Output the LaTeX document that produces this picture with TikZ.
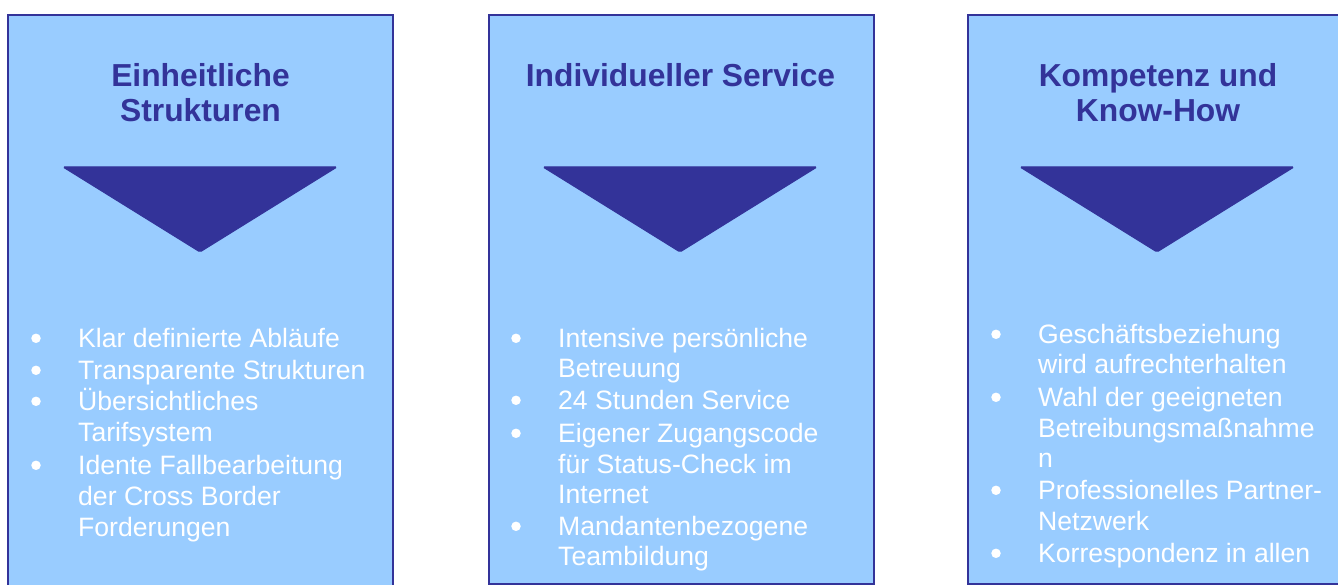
\documentclass[tikz,border=0pt]{standalone}
\usepackage{fontspec}
\setmainfont{Liberation Sans}
\definecolor{panelblue}{HTML}{99CCFF}
\definecolor{darkblue}{HTML}{333399}

\tikzset{
  panel/.style={draw=darkblue, fill=panelblue, line width=2pt},
  wedge/.style={fill=darkblue, draw=darkblue, line width=1pt, rounded corners=1.5pt},
  headtext/.style={font=\fontsize{31.8}{35}\selectfont\bfseries, text=darkblue, anchor=base, inner sep=0pt},
  itemline/.style={font=\fontsize{26.6}{30}\selectfont, text=white, anchor=base west, inner sep=0pt},
  bullet/.style={circle, fill=white, inner sep=0pt, minimum size=9.5pt},
}

\begin{document}
\begin{tikzpicture}[x=1pt, y=-1pt]
  \useasboundingbox (0,0) rectangle (1338,585);
  \clip (0,0) rectangle (1338,585);

  % panels
  \draw[panel] (8,15)   rectangle (393,600);
  \draw[panel] (489,15) rectangle (874,584);
  \draw[panel] (968,15) rectangle (1360,584);

  % arrows down
  \fill[wedge] (63,167)   -- (337,167)  -- (200,252)  -- cycle;
  \fill[wedge] (543,167)  -- (817,167)  -- (680,252)  -- cycle;
  \fill[wedge] (1020,167) -- (1294,167) -- (1157,252) -- cycle;

  % headings
  \node[headtext] (h1a) at (200.5,87)  {Einheitliche};
  \node[headtext] (h1b) at (200.5,122) {Strukturen};
  \node[headtext] (h2a) at (680.5,87)  {Individueller Service};
  \node[headtext] (h3a) at (1158,87)   {Kompetenz und};
  \node[headtext] (h3b) at (1158,122)  {Know-How};

  % first list
  \foreach \y/\txt [count=\i] in {347/Klar definierte Abläufe, 379/Transparente Strukturen,
      410/Übersichtliches, 441/Tarifsystem, 474/Idente Fallbearbeitung,
      505/der Cross Border, 536/Forderungen}
    \node[itemline] (l1\i) at (78,\y) {\txt};
  \foreach \y [count=\i] in {347,379,410,474}
    \node[bullet] (b1\i) at (36,\y-8.7) {};

  % second list
  \foreach \y/\txt [count=\i] in {347/Intensive persönliche, 377/Betreuung,
      409/24 Stunden Service, 442/Eigener Zugangscode, 473/für Status-Check im,
      503/Internet, 535/Mandantenbezogene, 565/Teambildung}
    \node[itemline] (l2\i) at (558,\y) {\txt};
  \foreach \y [count=\i] in {347,409,442,535}
    \node[bullet] (b2\i) at (516,\y-8.7) {};

  % third list
  \foreach \y/\txt [count=\i] in {343/Geschäftsbeziehung, 373/wird aufrechterhalten,
      406/Wahl der geeigneten, 437/Betreibungsmaßnahme, 467/n,
      499/Professionelles Partner-, 530/Netzwerk, 562/Korrespondenz in allen}
    \node[itemline] (l3\i) at (1038,\y) {\txt};
  \foreach \y [count=\i] in {343,406,499,562}
    \node[bullet] (b3\i) at (996,\y-8.7) {};
\end{tikzpicture}
\end{document}
